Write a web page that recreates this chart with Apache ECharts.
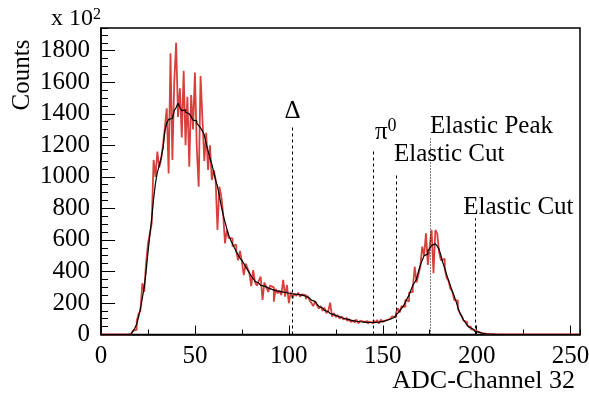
<!DOCTYPE html>
<html><head><meta charset="utf-8">
<script src="https://cdn.jsdelivr.net/npm/echarts@6.0.0/dist/echarts.min.js"></script>
<style>html,body{margin:0;padding:0;background:#fff}#c{width:589px;height:400px}</style>
</head><body><div id="c"></div>
<script>
// ADC channel bins 0..255 (value per channel, in units of 10^2 counts)
const rawCounts = [
  0,0,0,0,0,0,0,0,0,0,
  0,0,0,0,0,2,10,25,30,85,
  130,150,325,270,451,578,640,705,1107,1000,
  1160,1060,1110,1200,1312,1435,1022,1784,1107,1604,
  1851,1380,1561,1250,1673,1200,1508,1064,1519,1300,
  1661,1180,938,1640,1365,1100,1280,1043,1200,980,
  1043,985,663,937,880,769,578,663,612,610,
  560,570,527,470,530,462,377,450,420,390,
  307,409,330,310,340,367,219,330,300,270,
  310,299,208,290,260,280,250,346,240,314,
  198,270,230,260,245,265,240,255,250,225,
  245,218,200,180,210,185,165,180,150,170,
  135,150,202,113,135,110,125,100,115,95,
  105,85,98,80,90,75,95,70,88,80,
  72,85,68,82,70,90,75,92,70,95,
  80,92,85,100,95,115,108,135,166,140,
  180,175,220,210,265,270,293,430,330,380,
  430,557,500,642,441,560,663,388,663,640,
  520,470,480,420,360,340,290,275,220,215,
  165,135,118,88,78,55,48,32,29,18,
  16,10,9,5,5,3,3,2,2,2,
  1,1,1,1,1,1,1,1,1,1,
  1,1,1,1,1,1,1,1,1,1,
  1,1,1,1,1,1,1,1,1,1,
  1,1,1,1,1,1,1,1,1,1,
  1,1,1,1,1,1
];
const smoothCounts = [
  0,0,0,0,0,0,0,0,0,0,
  0,0,0,0,0,2,8,20,39,65,
  110,165,230,300,400,520,630,735,860,960,
  1030,1070,1120,1180,1290,1340,1365,1370,1378,1420,
  1440,1467,1440,1420,1425,1410,1400,1395,1380,1360,
  1355,1340,1325,1310,1290,1265,1210,1165,1120,1080,
  1030,980,940,880,815,760,714,670,630,600,
  575,550,527,505,485,470,450,430,410,390,
  370,355,338,326,318,312,307,302,296,290,
  286,282,278,276,273,271,269,267,265,262,
  260,258,256,255,254,252,250,247,243,238,
  232,225,218,210,202,193,178,168,160,152,
  145,138,132,126,121,116,112,108,104,100,
  97,94,91,88,86,84,82,81,80,79,
  78,77,77,76,77,77,78,79,81,83,
  86,89,93,97,102,108,114,122,135,150,
  166,180,205,229,250,282,313,330,352,400,
  440,470,500,510,530,546,565,575,585,560,
  540,500,455,420,380,345,310,275,245,210,
  170,140,115,92,75,58,45,35,27,20,
  15,11,8,6,4,3,2,2,1,1,
  0,0,0,0,0,0,0,0,0,0,
  0,0,0,0,0,0,0,0,0,0,
  0,0,0,0,0,0,0,0,0,0,
  0,0,0,0,0,0,0,0,0,0,
  0,0,0,0,0,0
];
// annotation markers
const markerNames = ['Δ', 'π0', 'Elastic Cut', 'Elastic Peak', 'Elastic Cut'];
const markerX = [102, 145, 157, 175.5, 199];
const markerTop = [1331, 1172, 1020, 1246, 737];
const labelX = [102, 145.8, 156, 175.2, 192.8];
const labelY = [1412, 1284, 1145, 1319, 806];
// axis ticks
const xTicks = [0, 50, 100, 150, 200, 250];
const yTicks = [0, 200, 400, 600, 800, 1000, 1200, 1400, 1600, 1800];

const FONT = "'Liberation Serif', 'Times New Roman', serif";
const chart = echarts.init(document.getElementById('c'), null, {renderer: 'canvas'});

const markLineData = markerX.map((x, i) => [
  {coord: [x, 0], lineStyle: {type: markerNames[i] === 'Elastic Peak' ? [1, 2] : [3, 3], color: '#000', width: 1}},
  {coord: [x, markerTop[i]]}
]);

const labelData = markerNames.map((n, i) => ({
  value: [labelX[i], labelY[i]],
  name: n,
  label: {align: i === 0 ? 'center' : 'left'}
}));

const option = {
  animation: false,
  backgroundColor: '#fff',
  title: {
    text: '{a|x 10}{b|2}', left: 51, top: 7, padding: 0,
    textStyle: {
      color: '#000', fontFamily: FONT, fontSize: 24, fontWeight: 'normal',
      rich: {
        a: {fontFamily: FONT, fontSize: 24, lineHeight: 24, color: '#000'},
        b: {fontFamily: FONT, fontSize: 16, lineHeight: 16, verticalAlign: 'top', color: '#000'}
      }
    }
  },
  grid: {left: 101, right: 9, top: 28, bottom: 65.5, show: true, borderColor: '#000', borderWidth: 1.5,
         backgroundColor: 'transparent', containLabel: false, outerBoundsMode: 'none'},
  xAxis: [{
    type: 'value', min: 0, max: 255, interval: 50,
    axisLine: {show: true, onZero: false, lineStyle: {color: '#000', width: 1.5}},
    axisTick: {show: true, inside: true, length: 9, lineStyle: {color: '#000', width: 1}},
    minorTick: {show: false},
    splitLine: {show: false},
    axisLabel: {show: true, color: '#000', fontFamily: FONT, fontSize: 25, margin: 9,
      showMaxLabel: false, formatter: v => xTicks.includes(v) ? String(v) : ''},
    name: 'ADC-Channel 32', nameLocation: 'end', nameGap: -5,
    nameTextStyle: {color: '#000', fontFamily: FONT, fontSize: 26, align: 'right', verticalAlign: 'top', padding: [34, 0, 0, 0]}
  }, {
    type: 'value', min: 0, max: 255, interval: 25, position: 'bottom',
    axisLine: {show: false}, axisLabel: {show: false}, splitLine: {show: false},
    axisTick: {show: true, inside: true, length: 5, lineStyle: {color: '#000', width: 1}}
  }],
  yAxis: [{
    type: 'value', min: 0, max: 1944, interval: 200,
    axisLine: {show: true, onZero: false, lineStyle: {color: '#000', width: 1.5}},
    axisTick: {show: true, inside: true, length: 14, lineStyle: {color: '#000', width: 1}},
    minorTick: {show: false},
    splitLine: {show: false},
    axisLabel: {show: true, color: '#000', fontFamily: FONT, fontSize: 25, margin: 11,
      showMaxLabel: false, formatter: v => yTicks.includes(v) ? String(v) : ''}
  }, {
    type: 'value', min: 0, max: 1944, interval: 50, position: 'left',
    axisLine: {show: false}, axisLabel: {show: false}, splitLine: {show: false},
    axisTick: {show: true, inside: true, length: 7, lineStyle: {color: '#000', width: 1}}
  }],
  graphic: [
    {type: 'text', x: 22, y: 75, rotation: Math.PI / 2, silent: true,
     style: {text: 'Counts', fill: '#000', font: "25px 'Liberation Serif', serif",
             align: 'center', verticalAlign: 'middle', textAlign: 'center', textVerticalAlign: 'middle'}}
  ],
  series: [
    {
      type: 'line', name: 'raw', xAxisIndex: 0, yAxisIndex: 0,
      data: rawCounts.map((v, i) => [i, v]), step: 'end', symbol: 'none', showSymbol: false,
      lineStyle: {color: '#d8413b', width: 1.8}, z: 2, silent: true
    },
    {
      type: 'line', name: 'smooth', xAxisIndex: 0, yAxisIndex: 0,
      data: smoothCounts.map((v, i) => [i, v]), step: 'end', symbol: 'none', showSymbol: false,
      lineStyle: {color: '#000', width: 1.2}, z: 3, silent: true,
      markLine: {silent: true, symbol: ['none', 'none'], label: {show: false}, animation: false,
                 data: markLineData}
    },
    {
      type: 'scatter', name: 'labels', xAxisIndex: 0, yAxisIndex: 0,
      data: labelData, symbolSize: 0, silent: true, z: 5,
      itemStyle: {opacity: 1, color: '#000'},
      label: {
        show: true, position: 'inside', verticalAlign: 'middle', color: '#000', opacity: 1,
        textBorderWidth: 0, textShadowBlur: 0,
        fontFamily: FONT, fontSize: 25,
        formatter: p => p.name === 'π0' ? '{p|π}{s|0}' : p.name,
        rich: {
          p: {fontFamily: FONT, fontSize: 25, lineHeight: 30, color: '#000', textBorderWidth: 0},
          s: {fontFamily: FONT, fontSize: 18, lineHeight: 18, verticalAlign: 'top', color: '#000', textBorderWidth: 0}
        }
      }
    }
  ]
};
chart.setOption(option);
</script>
</body></html>
